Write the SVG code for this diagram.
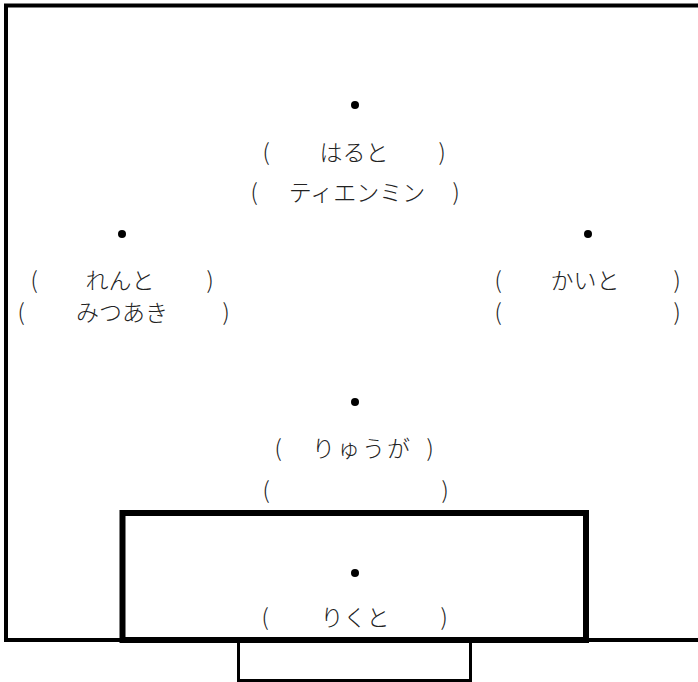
<svg xmlns="http://www.w3.org/2000/svg" width="698" height="682" viewBox="0 0 698 682">
<style>
.t{font-family:"Noto Sans CJK JP","Noto Sans",sans-serif;font-size:23px;fill:#222;text-anchor:middle;font-weight:300}
.d{fill:#000}
.ln{fill:none;stroke:#000}
</style>
<rect width="698" height="682" fill="#fff"/>
<g id="field">
<path class="ln" d="M698,5.5 H6 V640 H698" stroke-width="4"/>
<path class="ln" d="M238.5,643 V680.5 H470.5 V643" stroke-width="3"/>
<rect class="ln" x="122.5" y="513" width="463.5" height="127" stroke-width="6"/>
</g>
<g id="fw">
<circle class="d" cx="355" cy="105" r="4"/>
<text class="t" x="266" y="161">(</text><text class="t" x="354" y="161">はると</text><text class="t" x="442" y="161">)</text>
<text class="t" x="254" y="201">(</text><text class="t" x="357" y="201">ティエンミン</text><text class="t" x="456" y="201">)</text>
</g>
<g id="lw">
<circle class="d" cx="122" cy="234" r="4"/>
<text class="t" x="34" y="289">(</text><text class="t" x="120" y="289">れんと</text><text class="t" x="210" y="289">)</text>
<text class="t" x="21" y="321">(</text><text class="t" x="122" y="321">みつあき</text><text class="t" x="226" y="321">)</text>
</g>
<g id="rw">
<circle class="d" cx="588" cy="234" r="4"/>
<text class="t" x="498" y="289">(</text><text class="t" x="585" y="289">かいと</text><text class="t" x="677" y="289">)</text>
<text class="t" x="498" y="321">(</text><text class="t" x="677" y="321">)</text>
</g>
<g id="df">
<circle class="d" cx="355" cy="402" r="4"/>
<text class="t" x="278" y="457">(</text><text class="t" x="362" y="457" letter-spacing="2">りゅうが</text><text class="t" x="430" y="457">)</text>
<text class="t" x="266" y="499">(</text><text class="t" x="445" y="499">)</text>
</g>
<g id="gk">
<circle class="d" cx="355" cy="573" r="4"/>
<text class="t" x="265" y="626">(</text><text class="t" x="355" y="626">りくと</text><text class="t" x="444" y="626">)</text>
</g>
<g id="connectors"/>
</svg>
